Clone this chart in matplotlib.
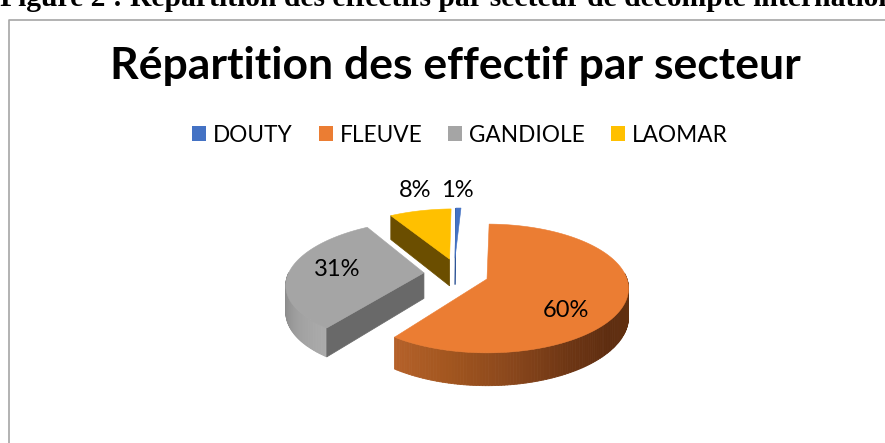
import numpy as np
import matplotlib
matplotlib.use('Agg')
import matplotlib.pyplot as plt
from matplotlib.patches import Polygon, Patch
from matplotlib.collections import PolyCollection
from matplotlib.colors import to_rgb

# Data
sectors = ['DOUTY', 'FLEUVE', 'GANDIOLE', 'LAOMAR']
shares = [0.7, 59.6, 31.3, 8.4]
labels = ['1%', '60%', '31%', '8%']
title = 'Répartition des effectif par secteur'
caption = 'Figure 2 : Répartition des effectifs par secteur de décompte internationale'

colors = ['#4472C4', '#EB7D33', '#A5A5A5', '#FFC000']
cut_colors = ['#2F5597', '#843C0C', '#696969', '#6B4E00']
# explosion of each slice on the pie plane (same units as the radius)
offsets = [(-0.24, 0.35), (0, 0), (-0.457, 0.10), (-0.28, 0.33)]
radii = [1, 1, 0.98, 1]
depths = [28, 28, 26, 28]
label_pos = [(-0.27, 1.78), (0.527, -0.46), (-1.09, 0.146), (-0.648, 1.78)]

# view of the tilted pie, in pixels
cx, cy, fx, fy, persp = 487, 279, 140, 63, 0.147
fleuve_start = 1.0


def project(X, Y, z=0):
    s = 1 / (1 + persp * np.asarray(Y))
    return cx + fx * np.asarray(X) * s, cy - (fy * np.asarray(Y) - z) * s


def rim(theta, i):
    t = np.radians(theta)
    return offsets[i][0] + radii[i] * np.sin(t), offsets[i][1] + radii[i] * np.cos(t)


def wall(ax, theta, i, stops, zorder):
    # outer wall of a slice, coloured along the rim
    X, Y = rim(theta, i)
    x0, y0 = project(X, Y)
    x1, y1 = project(X, Y, depths[i])
    quads, cols = [], []
    pos = np.linspace(0, 1, len(theta) - 1)
    rgb = np.array([to_rgb(c) for c in stops])
    grid = np.linspace(0, 1, len(stops))
    for k in range(len(theta) - 1):
        quads.append([(x0[k], y0[k]), (x0[k + 1], y0[k + 1]), (x1[k + 1], y1[k + 1]), (x1[k], y1[k])])
        cols.append([np.interp(pos[k], grid, rgb[:, c]) for c in range(3)])
    ax.add_collection(PolyCollection(quads, facecolors=cols, edgecolors=cols, linewidths=0.6, zorder=zorder))


fig = plt.figure(figsize=(8.85, 4.43), dpi=100)
ax = fig.add_axes([0, 0, 1, 1])
ax.set_xlim(0, 885)
ax.set_ylim(443, 0)
ax.axis('off')

# page caption cut by the top of the picture, and chart frame
ax.text(0, 5.5, caption, family='Liberation Serif', weight='bold', fontsize=21.3,
        ha='left', va='baseline', color='black', clip_on=True)
ax.plot([8.5, 8.5, 885], [443, 20, 20], color='#A6A6A6', lw=1.2)

ax.text(455, 66, title, family='Lato', weight='bold', fontsize=32, ha='center', va='center', color='black')

# slice angles start from FLEUVE
deg = np.array(shares) / sum(shares) * 360
starts = {1: fleuve_start, 2: fleuve_start + deg[1], 3: fleuve_start + deg[1] + deg[2],
          0: fleuve_start + deg[1] + deg[2] + deg[3]}

wall_stops = {
    1: ['#5E2E10', '#62300F', '#5E2D10', '#6E3614', '#8A471C', '#A2561F', '#B5612A'],
    2: ['#7C7C7C', '#8E8E8E', '#A0A0A0', '#ABABAB'],
}


def side_cut(i, theta, zorder):
    off = offsets[i]
    ax_, ay_ = project(off[0], off[1])
    bx, by = project(off[0], off[1], depths[i])
    X, Y = rim(theta, i)
    rx, ry = project(X, Y)
    sx, sy = project(X, Y, depths[i])
    ax.add_patch(Polygon([(ax_, ay_), (rx, ry), (sx, sy), (bx, by)], facecolor=cut_colors[i],
                         edgecolor=cut_colors[i], lw=0.5, zorder=zorder))


for i, z in zip([3, 0, 2, 1], [2, 3, 4, 5]):
    a0, a1 = starts[i], starts[i] + deg[i]
    theta = np.linspace(a0, a1, 120)
    off = offsets[i]
    if i == 1:
        wall(ax, np.linspace(85, a1, 120), i, wall_stops[1], z)
    if i == 2:
        wall(ax, np.linspace(a0, 270, 60)[::-1], i, wall_stops[2], z)
        side_cut(i, a0, z + 0.1)
    if i == 3:
        side_cut(i, a0, z)
    if i == 0:
        side_cut(i, a0, z)
    X, Y = rim(theta, i)
    px, py = project(X, Y)
    ox, oy = project(off[0], off[1])
    ax.add_patch(Polygon(np.column_stack([np.r_[ox, px], np.r_[oy, py]]), facecolor=colors[i],
                         edgecolor=colors[i], lw=0.4, zorder=z + 0.2))

for lab, (lx, ly) in zip(labels, label_pos):
    px, py = project(lx, ly)
    ax.text(px, py, lab, family='Lato', fontsize=17, ha='center', va='center', color='black', zorder=10)

handles = [Patch(facecolor=c, label=s) for c, s in zip(colors, sectors)]
leg = ax.legend(handles=handles, loc='center', bbox_to_anchor=(460 / 885, 1 - 135 / 443), ncol=4, frameon=False,
                prop={'family': 'Lato', 'size': 16.3}, handlelength=0.62, handleheight=0.62,
                handletextpad=0.3, columnspacing=1.15, borderpad=0)

fig.savefig('out.png', dpi=100)
